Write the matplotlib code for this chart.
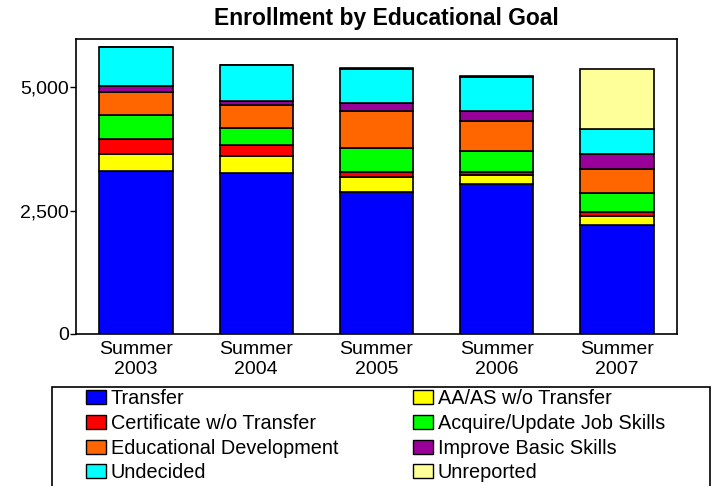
import numpy as np
import matplotlib
matplotlib.use('Agg')
import matplotlib.pyplot as plt
from matplotlib.patches import Patch, Rectangle

plt.rcParams['font.family'] = ['Liberation Sans', 'DejaVu Sans']

# Data
years = ['Summer\n2003', 'Summer\n2004', 'Summer\n2005', 'Summer\n2006', 'Summer\n2007']
transfer = [3305, 3265, 2886, 3042, 2198]
aa_as = [331, 338, 304, 182, 182]
certificate = [317, 235, 101, 67, 81]
acquire = [492, 344, 474, 425, 393]
educational = [459, 453, 755, 607, 486]
improve = [122, 87, 156, 203, 309]
undecided = [795, 723, 688, 688, 500]
unreported = [0, 0, 14, 16, 1215]

series = [
    ('Transfer', transfer, '#0000ff'),
    ('AA/AS w/o Transfer', aa_as, '#ffff00'),
    ('Certificate w/o Transfer', certificate, '#ff0000'),
    ('Acquire/Update Job Skills', acquire, '#00ff00'),
    ('Educational Development', educational, '#ff6600'),
    ('Improve Basic Skills', improve, '#990099'),
    ('Undecided', undecided, '#00ffff'),
    ('Unreported', unreported, '#ffff99'),
]

fig = plt.figure(figsize=(7.14, 4.86), dpi=100)
ax = fig.add_axes([76 / 714, 1 - 334 / 486, 601 / 714, 295 / 486])

x = np.arange(len(years))
bottom = np.zeros(len(years))
for name, vals, color in series:
    ax.bar(x, vals, 0.61, bottom=bottom, color=color, edgecolor='black', linewidth=1.2)
    bottom += np.array(vals)

ax.set_xlim(-0.5, 4.5)
ax.set_ylim(0, 5975)
ax.set_yticks([0, 2500, 5000])
ax.set_yticklabels(['0', '2,500', '5,000'])
ax.set_xticks(x)
ax.set_xticklabels(years, linespacing=1.2)
ax.tick_params(axis='x', length=0, pad=5, labelsize=14)
ax.tick_params(axis='y', length=4, width=1, pad=1, labelsize=14)
for s in ax.spines.values():
    s.set_linewidth(1.2)

fig.text(386 / 714, 1 - 18 / 486, 'Enrollment by Educational Goal', ha='center', va='center',
         fontsize=16.5, fontweight='bold')

# legend box
fig.patches.append(Rectangle((52 / 714, -0.05), 658 / 714, (486 - 387) / 486 + 0.05,
                             transform=fig.transFigure, fill=False, edgecolor='black',
                             linewidth=1.2))
order = [0, 2, 4, 6, 1, 3, 5, 7]
handles = [Patch(facecolor=series[i][2], edgecolor='black', label=series[i][0]) for i in order]
fig.legend(handles=handles, ncol=2, loc='upper left', bbox_to_anchor=(86 / 714, 1 - 389 / 486),
           frameon=False, fontsize=14.3, handlelength=1.0, handleheight=0.7, handletextpad=0.25,
           columnspacing=3.75, labelspacing=0.29, borderpad=0, borderaxespad=0)

fig.savefig('out.png', dpi=100)
